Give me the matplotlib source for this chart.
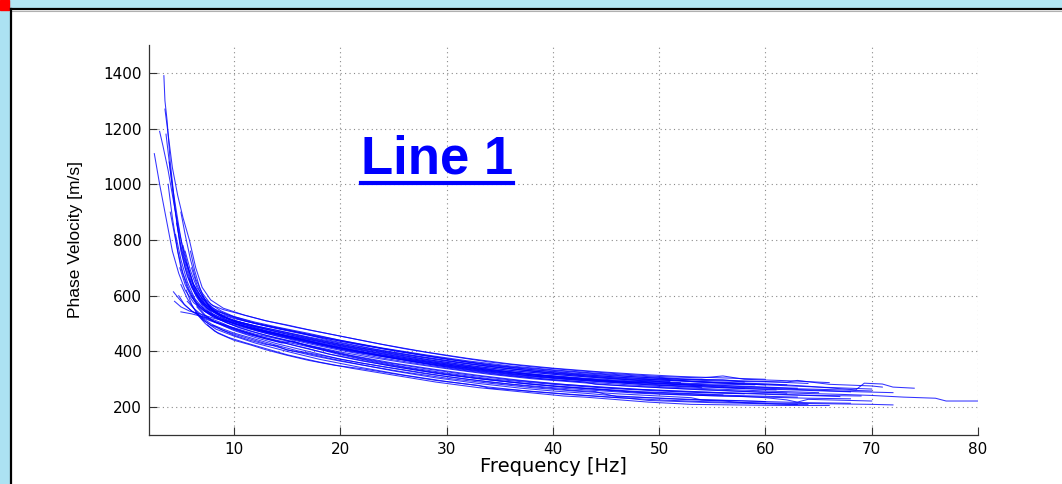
import matplotlib
matplotlib.use("Agg")
import matplotlib.pyplot as plt
from matplotlib.patches import Rectangle
from matplotlib.lines import Line2D

# dispersion curves: (frequency [Hz], phase velocity [m/s])
curves = [
    [(3.4,1390),(3.5,1300),(3.7,1230),(4.0,1080),(4.5,900),(5.0,760),(5.6,670),(6.3,610),(7.2,570),(8.3,545),(10,525),(12,505),(14,488),(17,465),(20,440),(24,410),(28,385),(32,362),(36,345),(40,332),(44,320),(48,308),(52,300),(56,298),(58,290)],
    [(2.5,1110),(3.0,1000),(3.6,880),(4.2,760),(4.8,680),(5.4,620),(6.2,575),(7.2,545),(8.5,520),(10,500),(12,482),(15,455),(18,428),(22,398),(26,372),(30,350),(34,330),(38,312),(42,298),(46,288),(50,278),(54,270)],
    [(3.0,1190),(3.3,1140),(3.8,1050),(4.3,940),(4.9,820),(5.5,720),(6.2,640),(7.0,590),(8.0,555),(9.5,530),(11,510),(13,492),(16,468),(19,440),(23,410),(27,385),(31,362),(35,342),(39,325),(43,312),(47,300),(51,292)],
    [(3.5,1270),(3.8,1180),(4.2,1060),(4.7,960),(5.2,880),(5.8,800),(6.4,700),(7.0,630),(7.8,585),(9,555),(11,530),(13,510),(16,485),(20,455),(24,425),(28,398),(32,375),(36,355),(40,340),(44,328),(48,318),(52,310),(56,305),(60,300)],
    [(5.5,720),(6.2,640),(7.0,590),(8.0,550),(9.5,515),(11,492),(13,470),(16,445),(19,420),(23,390),(27,362),(31,338),(35,318),(39,302),(43,290),(44,282),(47,276),(51,268),(55,262),(59,255),(63,250),(67,246),(70,242),(73,236),(76,232),(77,222),(80,222)],
    [(4.5,820),(5.0,730),(5.6,650),(6.3,590),(7.2,550),(8.5,525),(10,505),(12,488),(15,465),(18,440),(22,412),(26,388),(30,365),(34,345),(38,330),(42,318),(46,308),(50,300),(54,292),(57,288),(61,282),(64,275),(68.5,262),(69.3,286),(71,283),(72,272),(74,268)],
    [(5.0,640),(5.6,590),(6.3,550),(7.2,510),(8.3,480),(10,455),(12,430),(15,400),(18,372),(22,342),(26,315),(30,292),(34,272),(38,256),(42,244),(46,234),(50,226),(54,220),(58,216),(62,214),(66,212),(70,210),(72,208)],
    [(4.0,900),(4.5,800),(5.0,700),(5.6,630),(6.3,580),(7.0,550),(8.0,525),(9.5,500),(11,485),(13,465),(16,440),(20,408),(24,382),(28,358),(32,338),(36,320),(40,306),(44,296),(47,288),(49,294),(52,285),(56,278),(60,272),(63,268)],
    [(4.8,600),(5.3,570),(6.0,545),(7.0,525),(8.2,505),(10,485),(12,462),(14,446),(17,420),(20,392),(24,362),(28,338),(32,316),(36,298),(40,284),(44,274),(48,264),(52,258),(56,252),(60,248),(64,242),(67,238)],
    [(5.0,542),(6.0,535),(7.0,525),(8.0,515),(9.0,500),(10,482),(12,458),(14,440),(16,425),(19,400),(22,374),(26,345),(30,322),(34,302),(38,288),(42,276),(46,266),(50,258),(54,252),(58,248)],
    [(4.3,614),(4.8,590),(5.4,565),(6.2,540),(7.2,518),(8.5,500),(10,475),(12,450),(14,428),(17,400),(20,372),(24,345),(28,320),(32,300),(36,283),(40,270),(44,260),(48,250),(52,244),(56,240),(60,236),(64,232),(68,230)],
    [(5.5,620),(6.0,570),(6.6,530),(7.3,500),(8.2,472),(9.5,450),(11,432),(13,410),(15,388),(18,362),(21,340),(25,315),(29,290),(33,270),(37,255),(41,240),(43,236),(45,230),(47,224),(49,218),(51,214),(53,210),(57,208),(62,206),(66,206)],
    [(3.8,1000),(4.2,880),(4.7,760),(5.2,680),(5.8,620),(6.5,575),(7.4,545),(8.5,520),(10,500),(12,478),(15,450),(18,424),(21,400),(25,375),(29,350),(33,330),(37,312),(41,300),(45,290),(49,280),(53,275),(57,268),(61,262)],
    [(5.2,780),(5.7,700),(6.3,620),(7.0,570),(8.0,535),(9.2,512),(11,490),(13,472),(16,450),(19,428),(23,400),(27,375),(31,352),(35,332),(39,316),(43,304),(47,295),(51,288),(55,283),(59,280)],
    [(4.6,860),(5.0,780),(5.5,700),(6.0,640),(6.7,590),(7.5,555),(8.6,530),(10,510),(12,492),(14,476),(17,452),(20,430),(24,402),(28,378),(32,356),(36,338),(40,322),(44,310),(48,300),(52,294),(56,286),(60,280),(65,272),(70,265)],
    [(5.8,660),(6.4,600),(7.1,560),(8.0,530),(9.2,505),(10.5,485),(12,468),(14,448),(17,422),(20,398),(23,378),(26,360),(30,338),(34,318),(38,302),(42,290),(46,278),(50,270),(54,262),(58,256),(62,250)],
    [(6.0,600),(6.6,560),(7.3,530),(8.2,505),(9.5,485),(11,465),(13,445),(15,428),(17,410),(19,390),(22,368),(25,346),(29,322),(33,302),(37,286),(41,272),(45,262),(48,254),(51,250),(55,244),(59,240),(63,236)],
    [(6.5,560),(7.2,530),(8.0,510),(9.0,495),(10,480),(11.5,462),(13,445),(14.5,430),(15.5,438),(17,418),(20,388),(24,356),(28,330),(32,308),(36,290),(40,276),(44,266),(48,256),(52,250),(56,244)],
    [(7.0,520),(8.0,495),(9.0,475),(10,458),(11.5,440),(13,425),(14,420),(15,405),(16.5,396),(19,375),(22,352),(25,330),(29,305),(33,285),(37,268),(40,258),(43,250),(46,240),(49,234),(53,228),(57,224),(60,220)],
    [(7.5,495),(8.5,465),(10,440),(11.5,424),(13,406),(15,386),(17,368),(19.5,350),(22,338),(25,320),(29,296),(33,278),(34,268),(37,260),(41,248),(44,240),(47,232),(49,224),(52,220),(55,216),(58,214),(62,210),(64,210)],
    [(5.4,760),(5.9,690),(6.5,630),(7.2,590),(8.0,565),(9.0,550),(10,540),(11.5,525),(13,510),(15,495),(17,478),(20,455),(23,432),(26,410),(30,385),(34,362),(38,345),(42,332),(46,320),(50,310),(54,305),(56,312),(58,300),(62,295),(66,288)],
    [(6.2,640),(6.8,590),(7.6,556),(8.6,535),(10,518),(12,500),(14,484),(17,462),(20,440),(24,412),(28,388),(32,366),(36,348),(40,334),(44,322),(48,312),(52,302),(55,298),(60,292),(64,285)],
    [(4.9,700),(5.4,640),(6.0,595),(6.8,560),(7.8,532),(9.0,512),(10.5,494),(12,478),(14,460),(17,434),(20,410),(24,382),(28,358),(32,336),(36,318),(40,305),(44,294),(48,285),(52,276),(56,270),(60,265),(64,260),(68,255)],
    [(5.6,580),(6.2,555),(7.0,530),(8.0,510),(9.5,490),(11,470),(13,448),(16,418),(19,390),(22,366),(26,340),(30,316),(34,298),(38,282),(42,270),(46,258),(50,248),(54,242),(58,238),(60,234),(62,226),(63,218),(64,228),(68,224),(70,222)],
    [(6.8,580),(7.5,555),(8.4,535),(9.5,518),(11,500),(13,480),(15,462),(18,438),(21,416),(25,390),(29,366),(33,345),(37,328),(41,315),(45,304),(48,296),(50,302),(53,292),(57,285),(60,280)],
    [(3.9,1080),(4.3,970),(4.8,850),(5.3,740),(5.9,660),(6.6,600),(7.5,560),(8.6,532),(10,508),(12,485),(15,456),(18,430),(22,400),(26,375),(30,352),(34,332),(38,316),(42,302),(46,292),(50,284),(54,278)],
    [(6.0,700),(6.5,640),(7.1,590),(7.8,555),(8.8,530),(10,512),(12,490),(14,470),(17,444),(20,420),(23,398),(27,372),(31,350),(35,330),(39,314),(43,302),(47,292),(51,285),(55,278),(59,272),(63,266),(67,262),(70,258)],
    [(4.4,580),(5.0,560),(5.8,545),(6.8,535),(8.0,520),(9.5,505),(11,488),(13,470),(16,445),(19,420),(23,392),(27,368),(31,346),(35,328),(39,312),(43,300),(47,290),(51,282),(55,274),(58,268)],
    [(7.0,600),(7.6,570),(8.4,545),(9.4,528),(10.5,515),(12,500),(14,482),(16,466),(19,444),(22,424),(26,398),(30,374),(34,352),(38,335),(42,322),(46,312),(50,304),(54,296),(58,292),(62,290),(63,296),(66,282),(70,276),(71,272)],
    [(6.4,540),(7.0,515),(7.8,495),(8.8,478),(10,462),(11.5,445),(13,428),(15,406),(17.5,384),(20,365),(23,345),(26,326),(30,304),(34,286),(38,270),(42,258),(46,248),(50,240),(53,234),(54,226),(56,224),(60,220),(64,216),(68,214)],
    [(5.0,900),(5.4,820),(5.9,730),(6.4,660),(7.0,610),(7.8,570),(8.8,545),(10,525),(12,502),(15,478),(18,452),(22,422),(26,396),(30,372),(34,350),(38,334),(42,320),(46,308),(50,298),(54,290),(58,284),(62,280)],
    [(5.9,760),(6.3,690),(6.8,625),(7.4,575),(8.2,540),(9.2,515),(10.5,495),(12,476),(14,455),(17,428),(20,404),(24,376),(28,352),(32,330),(36,312),(40,298),(44,288),(48,278),(52,270),(56,264),(60,258),(65,252)],
    [(3.6,1180),(4.0,1050),(4.4,920),(4.9,790),(5.4,700),(6.0,630),(6.7,585),(7.6,550),(8.8,525),(10,510),(12,492),(14,476),(17,450),(20,426),(24,398),(28,372),(32,350),(36,332),(40,318),(44,306),(48,296),(52,288)],
    [(7.2,545),(8.0,525),(9.0,508),(10.2,490),(11.5,474),(13,458),(15,440),(18,412),(21,386),(25,358),(29,335),(33,314),(37,296),(41,282),(45,270),(49,262),(53,255),(57,250),(61,245),(65,242),(69,240)],
    [(6.6,610),(7.2,575),(8.0,548),(9.0,525),(10,508),(11.5,490),(13,474),(15,456),(18,432),(21,410),(25,384),(29,360),(33,340),(37,322),(41,308),(45,296),(49,288),(53,280),(57,272),(60,268),(64,262),(68,256),(72,252)],
    [(8.0,495),(9.0,480),(10,466),(12,444),(14,422),(16,402),(19,380),(22,358),(26,334),(30,310),(34,290),(38,274),(42,260),(44,256),(45,246),(46,238),(49,234),(52,228),(56,222),(58,216),(61,212),(63,210)],
]

x_ticks = [10, 20, 30, 40, 50, 60, 70, 80]
y_ticks = [200, 400, 600, 800, 1000, 1200, 1400]
title = "Line 1"

W, H = 1062, 484
fig = plt.figure(figsize=(W / 100, H / 100), dpi=100)
fig.patch.set_facecolor("white")

# slide frame: light blue strips, black border, red corner
fig.patches.append(Rectangle((0, 1 - 8 / H), 1, 8 / H, transform=fig.transFigure,
                             color="#b2e6f4", zorder=0))
fig.patches.append(Rectangle((0, 0), 10 / W, 1, transform=fig.transFigure,
                             color="#ace2f2", zorder=0))
fig.patches.append(Rectangle((0, 1 - 10 / H), 9 / W, 10 / H, transform=fig.transFigure,
                             color="#ff0000", zorder=1))
fig.lines.append(Line2D([10.5 / W, 1], [1 - 8.5 / H, 1 - 8.5 / H], transform=fig.transFigure,
                        color="black", lw=1.6, zorder=2))
fig.lines.append(Line2D([10.5 / W, 1], [1 - 10.5 / H, 1 - 10.5 / H], transform=fig.transFigure,
                        color="#b0b0b0", lw=0.8, zorder=2))
fig.lines.append(Line2D([10.5 / W, 10.5 / W], [0, 1 - 8.5 / H], transform=fig.transFigure,
                        color="black", lw=1.6, zorder=2))

ax = fig.add_axes([149 / W, 49 / H, (978 - 149) / W, (435 - 45) / H])
ax.set_facecolor("none")

for pts in curves:
    f, v = zip(*pts)
    ax.plot(f, v, color="#0000ff", lw=0.75, alpha=0.8)

ax.set_xlim(2, 80)
ax.set_ylim(100, 1500)
ax.set_xticks(x_ticks)
ax.set_yticks(y_ticks)
ax.grid(True, color="#8a8a8a", lw=0.8, linestyle=(0, (1, 3)))
for side in ("top", "right"):
    ax.spines[side].set_visible(False)
for side in ("left", "bottom"):
    ax.spines[side].set_color("#333333")
    ax.spines[side].set_linewidth(0.9)
ax.tick_params(direction="in", length=6, width=0.8, color="#333333",
               labelsize=11, pad=5)
for lab in ax.get_xticklabels() + ax.get_yticklabels():
    lab.set_family("DejaVu Sans")

ax.set_xlabel("Frequency [Hz]", fontsize=14, family="DejaVu Sans")
ax.xaxis.set_label_coords(0.488, -0.057)
ax.set_ylabel("Phase Velocity [m/s]", fontsize=12.5,
              family=["Liberation Sans Narrow", "Liberation Sans"])
ax.yaxis.set_label_coords(-0.08, 0.5)

t = fig.text(361 / W, 1 - 173 / H, title, color="#0000ff", fontsize=38,
             fontweight="bold", family="Liberation Sans", ha="left", va="baseline")
fig.canvas.draw()
bb = t.get_window_extent()
fig.lines.append(Line2D([bb.x0 / W, bb.x1 / W], [1 - 183 / H, 1 - 183 / H],
                        transform=fig.transFigure, color="#0000ff", lw=3))

fig.savefig("out.png", dpi=100)
